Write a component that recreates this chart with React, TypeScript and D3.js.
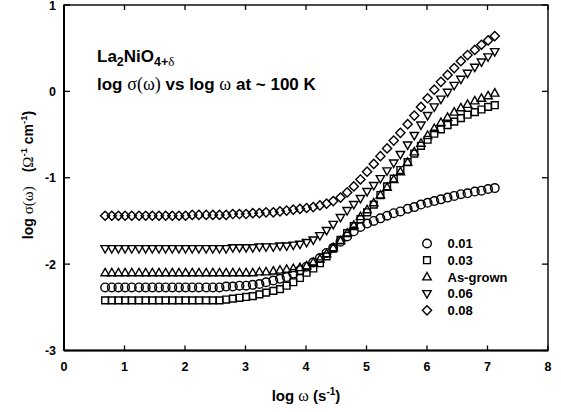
import React from "react";
import * as d3 from "d3";

const logOmega = [0.68, 0.79, 0.90, 1.01, 1.12, 1.24, 1.35, 1.46, 1.57, 1.68, 1.79, 1.90, 2.01, 2.12, 2.23, 2.35, 2.46, 2.57, 2.68, 2.79, 2.90, 3.01, 3.12, 3.23, 3.34, 3.46, 3.57, 3.68, 3.79, 3.90, 4.01, 4.12, 4.23, 4.34, 4.45, 4.57, 4.68, 4.79, 4.90, 5.01, 5.12, 5.23, 5.34, 5.45, 5.56, 5.68, 5.79, 5.90, 6.01, 6.12, 6.23, 6.34, 6.45, 6.56, 6.67, 6.79, 6.90, 7.01, 7.12];

const s001 = [-2.27, -2.27, -2.27, -2.27, -2.27, -2.27, -2.27, -2.27, -2.27, -2.27, -2.27, -2.27, -2.27, -2.27, -2.27, -2.27, -2.27, -2.27, -2.26, -2.26, -2.25, -2.25, -2.24, -2.23, -2.21, -2.19, -2.17, -2.15, -2.11, -2.07, -2.03, -1.98, -1.93, -1.87, -1.81, -1.74, -1.68, -1.62, -1.57, -1.53, -1.50, -1.47, -1.44, -1.41, -1.39, -1.36, -1.34, -1.31, -1.29, -1.27, -1.25, -1.23, -1.21, -1.19, -1.18, -1.16, -1.15, -1.13, -1.12];

const s003 = [-2.42, -2.42, -2.42, -2.42, -2.42, -2.42, -2.42, -2.42, -2.42, -2.42, -2.42, -2.42, -2.42, -2.42, -2.42, -2.42, -2.42, -2.42, -2.41, -2.40, -2.39, -2.38, -2.37, -2.35, -2.33, -2.31, -2.29, -2.25, -2.21, -2.16, -2.10, -2.05, -1.99, -1.91, -1.82, -1.72, -1.64, -1.56, -1.48, -1.40, -1.31, -1.20, -1.10, -1.01, -0.91, -0.82, -0.72, -0.63, -0.56, -0.49, -0.44, -0.39, -0.35, -0.31, -0.27, -0.24, -0.21, -0.18, -0.16];

const sAsGrown = [-2.10, -2.10, -2.10, -2.10, -2.10, -2.10, -2.10, -2.10, -2.10, -2.10, -2.10, -2.10, -2.10, -2.10, -2.10, -2.10, -2.10, -2.10, -2.10, -2.10, -2.10, -2.10, -2.10, -2.09, -2.09, -2.08, -2.07, -2.06, -2.05, -2.04, -2.02, -1.98, -1.94, -1.88, -1.81, -1.73, -1.64, -1.55, -1.45, -1.37, -1.29, -1.20, -1.11, -1.02, -0.93, -0.82, -0.70, -0.60, -0.51, -0.43, -0.36, -0.30, -0.24, -0.19, -0.15, -0.11, -0.08, -0.05, -0.02];

const s006 = [-1.82, -1.82, -1.82, -1.82, -1.82, -1.82, -1.82, -1.82, -1.82, -1.82, -1.82, -1.82, -1.82, -1.82, -1.82, -1.82, -1.82, -1.82, -1.82, -1.81, -1.81, -1.81, -1.81, -1.80, -1.80, -1.80, -1.79, -1.79, -1.78, -1.77, -1.75, -1.72, -1.67, -1.61, -1.54, -1.46, -1.38, -1.31, -1.24, -1.16, -1.09, -1.01, -0.92, -0.83, -0.73, -0.62, -0.51, -0.39, -0.28, -0.18, -0.09, -0.01, 0.07, 0.14, 0.21, 0.28, 0.34, 0.40, 0.46];

const s008 = [-1.44, -1.44, -1.44, -1.44, -1.44, -1.44, -1.44, -1.44, -1.44, -1.44, -1.44, -1.44, -1.44, -1.43, -1.43, -1.43, -1.43, -1.43, -1.43, -1.42, -1.42, -1.42, -1.41, -1.41, -1.40, -1.40, -1.39, -1.38, -1.37, -1.36, -1.35, -1.34, -1.32, -1.30, -1.27, -1.23, -1.17, -1.10, -1.02, -0.93, -0.84, -0.75, -0.66, -0.57, -0.48, -0.38, -0.28, -0.18, -0.08, 0.02, 0.11, 0.19, 0.27, 0.35, 0.42, 0.48, 0.54, 0.59, 0.64];

const seriesNames = ["0.01", "0.03", "As-grown", "0.06", "0.08"];
const seriesShapes = ["circle", "square", "triangle", "invTriangle", "diamond"];
const seriesValues = [s001, s003, sAsGrown, s006, s008];

const xTicks = [0, 1, 2, 3, 4, 5, 6, 7, 8];
const yTicks = [-3, -2, -1, 0, 1];

const SANS = "'Liberation Sans', Arial, Helvetica, sans-serif";
const SERIF = "'Liberation Serif', 'Times New Roman', serif";

function markerPath(shape: string): string {
  switch (shape) {
    case "circle":
      return "M4.3,0A4.3,4.3,0,1,1,-4.3,0A4.3,4.3,0,1,1,4.3,0Z";
    case "square":
      return "M-3.4,-3.4H3.4V3.4H-3.4Z";
    case "triangle":
      return "M0,-4.4L4.2,3H-4.2Z";
    case "invTriangle":
      return "M0,4.4L4.2,-3H-4.2Z";
    case "diamond":
      return "M0,-4.6L4.6,0L0,4.6L-4.6,0Z";
  }
  return "";
}

export default function App() {
  const W = 561;
  const H = 412;
  const x = d3.scaleLinear().domain([0, 8]).range([64, 548]);
  const y = d3.scaleLinear().domain([-3, 1]).range([350.5, 5]);
  const [x0, x1] = x.range();
  const [y0, y1] = y.range();

  const legendX = 427;
  const legendY0 = 243.5;
  const legendDy = 16.7;

  return (
    <svg width={W} height={H} style={{ position: "absolute", left: 0, top: 0, background: "#fff" }}>
      <rect x={0} y={0} width={W} height={H} fill="#fff" />
      <rect x={x0} y={y1} width={x1 - x0} height={y0 - y1} fill="none" stroke="#000" strokeWidth={1.4} />
      <line x1={x0} x2={x0} y1={y1} y2={y0} stroke="#000" strokeWidth={2} />
      <line x1={x0} x2={x1} y1={y0} y2={y0} stroke="#000" strokeWidth={2} />
      {xTicks.map((t) => (
        <g key={"xt" + t}>
          <line x1={x(t)} x2={x(t)} y1={y0} y2={y0 - 5} stroke="#000" strokeWidth={1.3} />
          <line x1={x(t)} x2={x(t)} y1={y1} y2={y1 + 5} stroke="#000" strokeWidth={1.3} />
          <text x={x(t)} y={y0 + 20} textAnchor="middle" fontFamily={SANS} fontWeight="bold" fontSize={12.5}>
            {t}
          </text>
        </g>
      ))}
      {yTicks.map((t) => (
        <g key={"yt" + t}>
          <line x1={x0} x2={x0 + 6} y1={y(t)} y2={y(t)} stroke="#000" strokeWidth={1.3} />
          <line x1={x1} x2={x1 - 6} y1={y(t)} y2={y(t)} stroke="#000" strokeWidth={1.3} />
          <text x={56} y={y(t) + 4.5} textAnchor="end" fontFamily={SANS} fontWeight="bold" fontSize={12.5}>
            {t < 0 ? "-" + Math.abs(t) : t}
          </text>
        </g>
      ))}
      {seriesValues.map((vals, si) => (
        <g key={"s" + si}>
          {vals.map((v, i) => (
            <path
              key={i}
              d={markerPath(seriesShapes[si])}
              transform={`translate(${x(logOmega[i])},${y(v)})`}
              fill="none"
              stroke="#000"
              strokeWidth={1.4}
            />
          ))}
        </g>
      ))}
      {seriesNames.map((name, i) => (
        <g key={"lg" + i}>
          <path
            d={markerPath(seriesShapes[i])}
            transform={`translate(${legendX},${legendY0 + i * legendDy})`}
            fill="#fff"
            stroke="#000"
            strokeWidth={1.4}
          />
          <text x={447.5} y={legendY0 + i * legendDy + 4.8} fontFamily={SANS} fontWeight="bold" fontSize={13}>
            {name}
          </text>
        </g>
      ))}
      <text x={97} y={62} fontFamily={SANS} fontWeight="bold" fontSize={17}>
        La
        <tspan fontSize={12.5} dy={4}>2</tspan>
        <tspan dy={-4}>NiO</tspan>
        <tspan fontSize={12.5} dy={4}>4+</tspan>
        <tspan fontSize={13} fontFamily={SERIF} fontWeight="normal">δ</tspan>
      </text>
      <text x={97} y={89.5} fontFamily={SANS} fontWeight="bold" fontSize={17}>
        log{" "}
        <tspan fontFamily={SERIF} fontWeight="normal" fontSize={18}>σ(ω)</tspan>
        <tspan> vs log </tspan>
        <tspan fontFamily={SERIF} fontWeight="normal" fontSize={18}>ω</tspan>
        <tspan> at ~ 100 K</tspan>
      </text>
      <text x={306} y={401} textAnchor="middle" fontFamily={SANS} fontWeight="bold" fontSize={15}>
        log{" "}
        <tspan fontFamily={SERIF} fontWeight="normal" fontSize={16}>ω</tspan>
        <tspan> (s</tspan>
        <tspan fontSize={10} dy={-6}>-1</tspan>
        <tspan dy={6}>)</tspan>
      </text>
      <text
        transform="translate(33,175) rotate(-90)"
        textAnchor="middle"
        fontFamily={SANS}
        fontWeight="bold"
        fontSize={14}
      >
        log{" "}
        <tspan fontFamily={SERIF} fontWeight="normal" fontSize={15}>σ(ω)</tspan>
        <tspan dx={14}>(</tspan>
        <tspan fontFamily={SERIF} fontWeight="normal" fontSize={15}>Ω</tspan>
        <tspan fontSize={9.5} dy={-6}>-1</tspan>
        <tspan dy={6}> cm</tspan>
        <tspan fontSize={9.5} dy={-6}>-1</tspan>
        <tspan dy={6}>)</tspan>
      </text>
    </svg>
  );
}
